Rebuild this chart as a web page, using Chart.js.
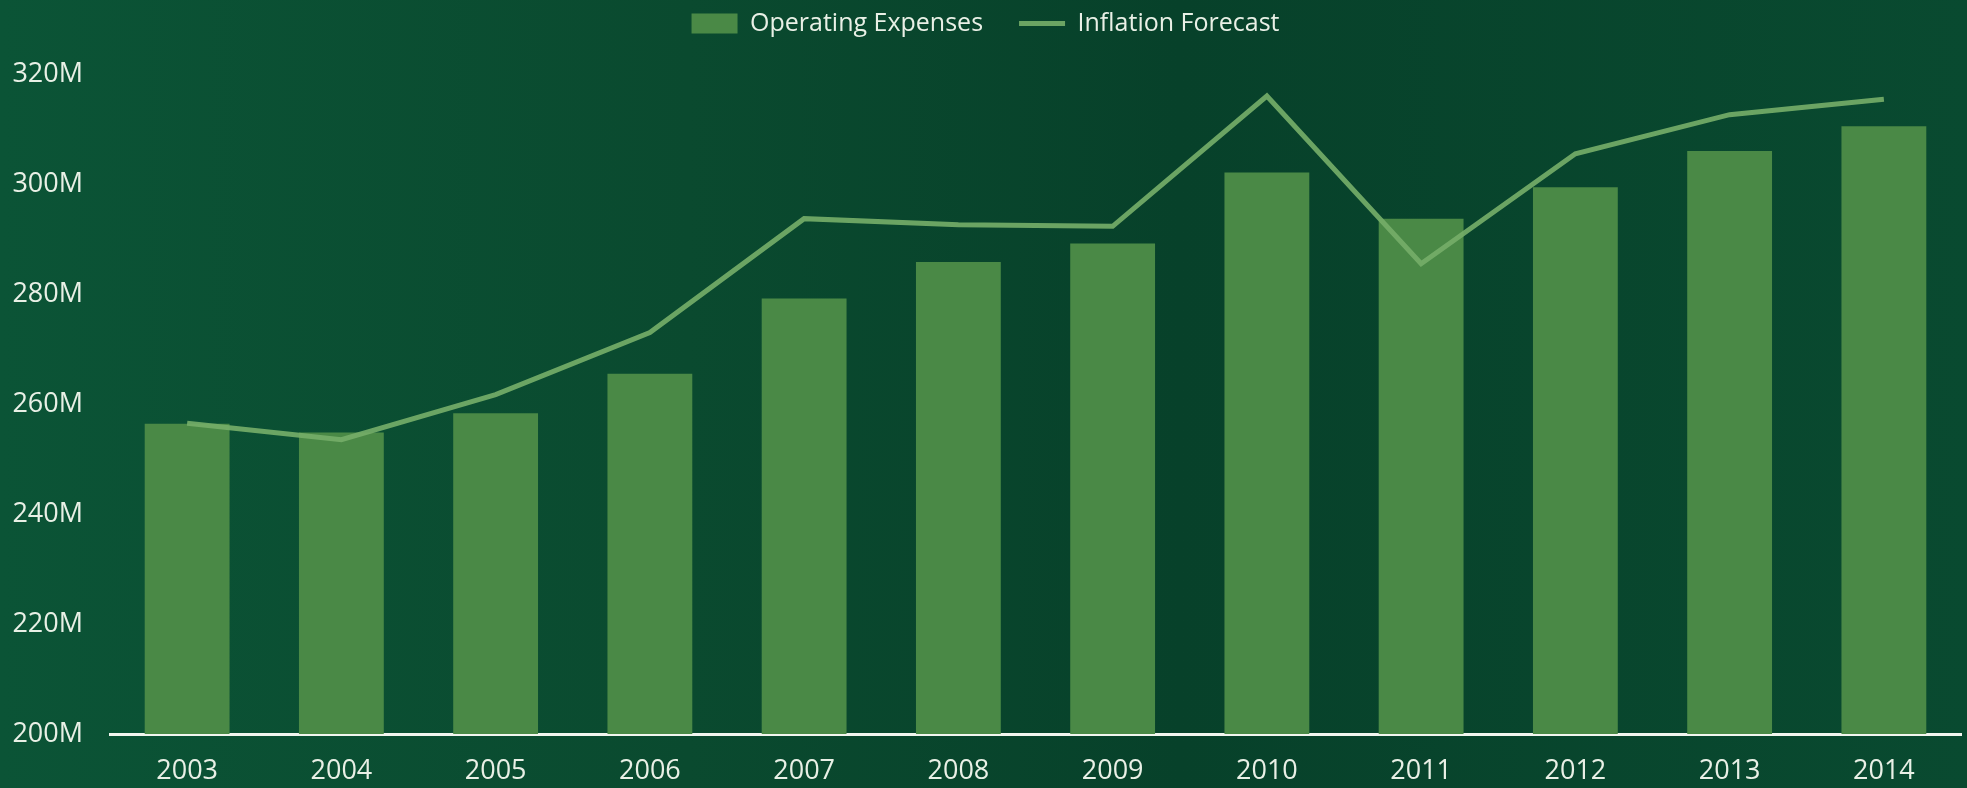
<!DOCTYPE html>
<html lang="en">
<head>
  <meta charset="UTF-8" />
  <title>Operating Expenses vs Inflation Forecast</title>
  <script src="https://cdn.jsdelivr.net/npm/chart.js"></script>
  <style>
    html, body { margin: 0; padding: 0; }
    body {
      width: 1967px; height: 788px; overflow: hidden;
      background: linear-gradient(90deg, #0b5436 0%, #0a4a2f 35%, #07412a 60%, #094a30 100%);
    }
    #wrap { position: relative; width: 1967px; height: 788px; }
  </style>
</head>
<body>
  <div id="wrap"><canvas id="opexChart"></canvas></div>

  <script>
    const years = ['2003', '2004', '2005', '2006', '2007', '2008', '2009', '2010', '2011', '2012', '2013', '2014'];
    // values in millions
    const operatingExpenses = [256.4, 254.8, 258.3, 265.5, 279.2, 285.8, 289.2, 302.1, 293.7, 299.4, 306.0, 310.5];
    const inflationForecast = [256.5, 253.5, 261.7, 273.0, 293.7, 292.6, 292.3, 316.0, 285.5, 305.5, 312.6, 315.4];
    const yTicks = { min: 200, max: 320, step: 20 };

    const textColor = '#e9f0e6';
    const fontFamily = '"Open Sans", "Noto Sans", sans-serif';

    // push the plot area down below the legend
    const legendGap = {
      id: 'legendGap',
      beforeInit(chart) {
        const fit = chart.legend.fit;
        chart.legend.fit = function () {
          fit.call(this);
          this.height += 28;
        };
      }
    };

    const ctx = document.getElementById('opexChart').getContext('2d');
    new Chart(ctx, {
      type: 'bar',
      data: {
        labels: years,
        datasets: [{
          label: 'Operating Expenses',
          data: operatingExpenses,
          backgroundColor: '#4a8946',
          borderWidth: 0,
          categoryPercentage: 1,
          barPercentage: 0.55,
          pointStyle: 'rect',
          order: 1
        }, {
          type: 'line',
          label: 'Inflation Forecast',
          data: inflationForecast,
          borderColor: 'rgba(116, 172, 104, 0.92)',
          backgroundColor: 'rgba(116, 172, 104, 0.92)',
          borderWidth: 5,
          pointRadius: 0,
          tension: 0,
          pointStyle: 'line',
          order: 0
        }]
      },
      options: {
        responsive: true,
        maintainAspectRatio: false,
        animation: false,
        layout: { padding: { left: 10, right: 6, top: 0, bottom: 0 } },
        plugins: {
          tooltip: { enabled: false },
          legend: {
            position: 'top',
            labels: {
              color: textColor,
              font: { family: fontFamily, size: 25 },
              usePointStyle: true,
              pointStyleWidth: 46,
              boxHeight: 20,
              padding: 11,
              sort: (a, b) => a.datasetIndex - b.datasetIndex,
              generateLabels(chart) {
                const items = Chart.defaults.plugins.legend.labels.generateLabels(chart);
                items.forEach(it => { if (it.datasetIndex === 0) it.text += '\u2003'; });
                return items;
              }
            }
          }
        },
        scales: {
          x: {
            grid: { display: false, drawTicks: false },
            border: { display: true, color: '#f2f6ef', width: 3 },
            ticks: {
              color: textColor,
              font: { family: fontFamily, size: 27 },
              padding: 21
            },
            afterFit(scale) { scale.height = 54; }
          },
          y: {
            min: yTicks.min,
            max: yTicks.max,
            grid: { display: false, drawTicks: false },
            border: { display: false },
            ticks: {
              stepSize: yTicks.step,
              color: textColor,
              font: { family: fontFamily, size: 27 },
              padding: 27,
              callback: v => v + 'M'
            },
            afterFit(scale) { scale.width = 100; }
          }
        }
      },
      plugins: [legendGap]
    });
  </script>
</body>
</html>
